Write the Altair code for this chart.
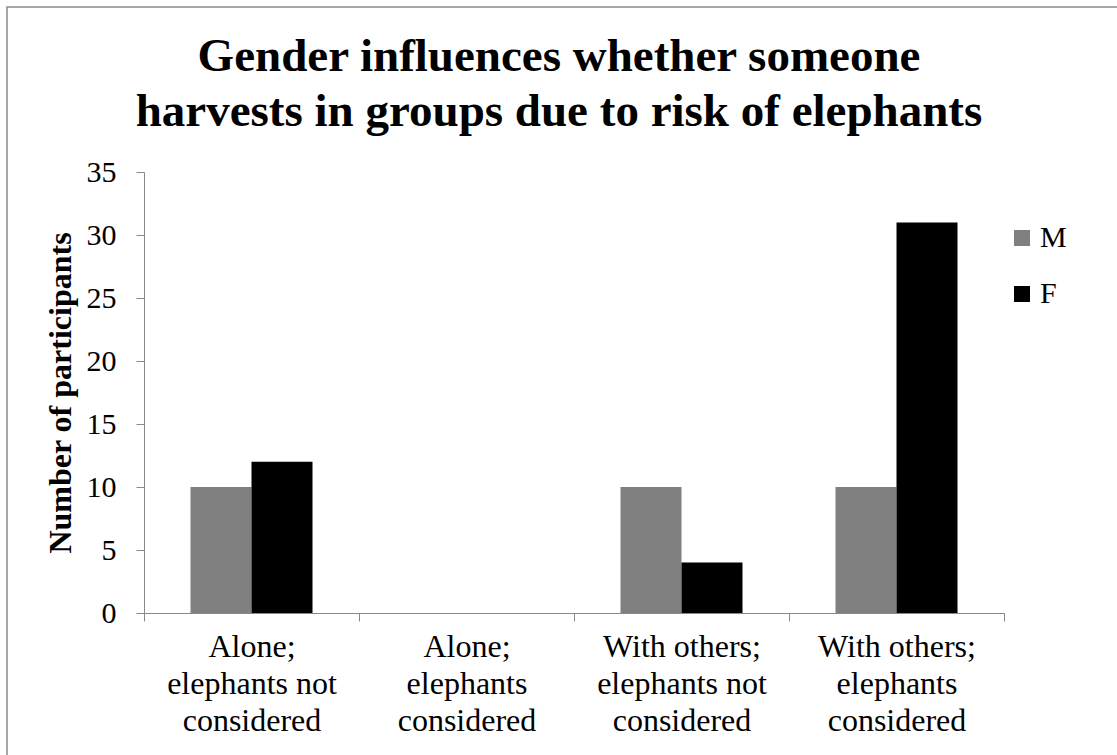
import altair as alt
import pandas as pd

# Survey counts by harvesting behaviour and gender
categories = [
    "Alone;|elephants not|considered",
    "Alone;|elephants|considered",
    "With others;|elephants not|considered",
    "With others;|elephants|considered",
]
genders = ["M", "F"]
male_counts = [10, 0, 10, 10]
female_counts = [12, 0, 4, 31]
gender_colors = ["#808080", "#000000"]
y_ticks = [0, 5, 10, 15, 20, 25, 30, 35]

rows = []
for cat, m, f in zip(categories, male_counts, female_counts):
    rows.append({"category": cat, "gender": "M", "count": m})
    rows.append({"category": cat, "gender": "F", "count": f})
df = pd.DataFrame(rows)

FONT = "Liberation Serif"
AXIS_GRAY = "#898989"

PLOT_LEFT, PLOT_TOP = 144, 172
PLOT_W, PLOT_H = 860, 441
PAD_RIGHT = 1117 - PLOT_LEFT - PLOT_W
PAD_BOTTOM = 755 - PLOT_TOP - PLOT_H

bars = alt.Chart(df).mark_bar().encode(
    x=alt.X(
        "category:N",
        sort=categories,
        scale=alt.Scale(paddingInner=0, paddingOuter=0),
        axis=alt.Axis(
            title=None,
            labelExpr="split(datum.label, '|')",
            labelAngle=0,
            labelFont=FONT,
            labelFontSize=32,
            labelLineHeight=37,
            labelColor="#000000",
            labelPadding=10,
            tickBand="extent",
            tickSize=8,
            tickColor=AXIS_GRAY,
            domainColor=AXIS_GRAY,
        ),
    ),
    # two bars per category, with a 150% gap between groups
    xOffset=alt.XOffset(
        "gender:N", sort=genders, scale=alt.Scale(paddingInner=0, paddingOuter=0.7623)
    ),
    y=alt.Y(
        "count:Q",
        scale=alt.Scale(domain=[0, 35], nice=False),
        axis=alt.Axis(
            title="Number of participants",
            titleFont=FONT,
            titleFontSize=32,
            titleFontWeight="bold",
            titleColor="#000000",
            titlePadding=9,
            values=y_ticks,
            grid=False,
            labelFont=FONT,
            labelFontSize=30,
            labelColor="#000000",
            labelPadding=20,
            tickSize=8,
            tickColor=AXIS_GRAY,
            domainColor=AXIS_GRAY,
        ),
    ),
    color=alt.Color(
        "gender:N",
        sort=genders,
        scale=alt.Scale(domain=genders, range=gender_colors),
        legend=alt.Legend(
            title=None,
            orient="none",
            legendX=863,
            legendY=51,
            symbolType="square",
            symbolSize=256,
            symbolStrokeWidth=0,
            symbolOpacity=1,
            labelFont=FONT,
            labelFontSize=30,
            labelColor="#000000",
            labelOffset=3,
            rowPadding=26,
        ),
    ),
)

# Thin frame around the whole chart area
frame = alt.Chart(pd.DataFrame({"k": [0]})).mark_rect(
    fillOpacity=0, stroke="#8a8a8a", strokeWidth=1.5
).encode(
    x=alt.value(7 - PLOT_LEFT),
    x2=alt.value(1200),
    y=alt.value(7 - PLOT_TOP),
    y2=alt.value(900),
)

chart = alt.layer(frame, bars).properties(
    width=PLOT_W,
    height=PLOT_H,
    padding={"left": PLOT_LEFT, "top": PLOT_TOP, "right": PAD_RIGHT, "bottom": PAD_BOTTOM},
    autosize=alt.AutoSizeParams(type="none"),
    background="white",
    title=alt.TitleParams(
        text=["Gender influences whether someone", "harvests in groups due to risk of elephants"],
        font=FONT,
        fontSize=47,
        fontWeight="bold",
        color="#000000",
        lineHeight=55,
        baseline="bottom",
        anchor="middle",
        frame="group",
        dx=-15,
        dy=177,
        offset=0,
    ),
).configure_view(strokeWidth=0)

chart.save("out.html", embed_options={"renderer": "svg", "actions": False})
